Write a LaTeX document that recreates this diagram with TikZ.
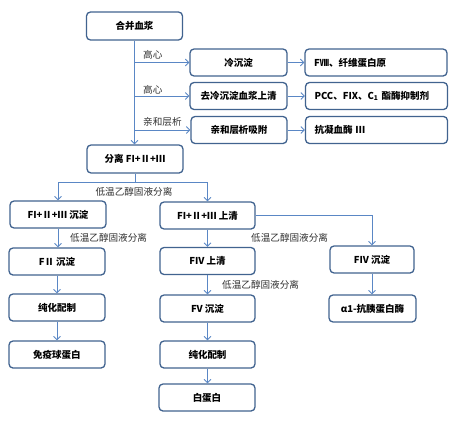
\documentclass[tikz,border=0pt]{standalone}
\usepackage{fontspec}
\setmainfont{Noto Sans CJK SC}
\usetikzlibrary{arrows.meta}
\definecolor{boxc}{HTML}{41638F}
\definecolor{linec}{HTML}{5A87C5}
\definecolor{labc}{HTML}{303030}
\tikzset{
  box/.style={draw=boxc, line width=1.3pt, rounded corners=4pt, fill=white,
    minimum width=96pt, minimum height=27pt, inner sep=1pt,
    font=\fontsize{9.5}{11}\selectfont\bfseries},
  rbox/.style={box, minimum width=142pt, text width=124pt, align=left},
  conn/.style={draw=linec, line width=0.8pt},
  arr/.style={conn, -{Straight Barb[length=3.5pt,width=7pt]}},
  lab/.style={font=\fontsize{9.6}{10}\selectfont, text=labc, inner sep=0pt}
}
\begin{document}
\begin{tikzpicture}[x=1pt,y=-1pt]
\useasboundingbox (0,0) rectangle (459,421);
% nodes
\node[box, minimum height=28pt] (a) at (134.5,26) {合并血浆};
\node[box, minimum width=97pt] (b) at (238.5,62.5) {冷沉淀};
\node[rbox] (c) at (376,62.5) {FⅧ、纤维蛋白原};
\node[box, minimum width=97pt] (d) at (238.5,96) {去冷沉淀血浆上清};
\node[rbox] (e) at (376.5,96) {PCC、FIX、C\textsubscript{1} 酯酶抑制剂};
\node[box] (f) at (239,130) {亲和层析吸附};
\node[rbox] (g) at (376.5,130) {抗凝血酶 Ⅲ};
\node[box, minimum height=28pt] (h) at (135,159) {分离 FI+Ⅱ+Ⅲ};
\node[box] (i) at (58,214.5) {FI+Ⅱ+Ⅲ 沉淀};
\node[box, minimum width=95pt] (j) at (207.5,215.5) {FI+Ⅱ+Ⅲ 上清};
\node[box] (k) at (57,261.5) {FⅡ 沉淀};
\node[box, minimum width=95pt] (l) at (207.5,261) {FIV 上清};
\node[box, minimum width=84pt] (m) at (372,259.5) {FIV 沉淀};
\node[box] (n) at (57,307.5) {纯化配制};
\node[box, minimum width=95pt] (o) at (207.5,308.5) {FV 沉淀};
\node[box, minimum width=87pt] (p) at (372.5,308.5) {α1-抗胰蛋白酶};
\node[box] (q) at (57,354.5) {免疫球蛋白};
\node[box, minimum width=95pt] (r) at (207.5,354.5) {纯化配制};
\node[box] (s) at (207,397.5) {白蛋白};
% top trunk
\draw[arr] (a.south) -- (a.south |- h.north);
\draw[arr] (a.south |- b.west) -- (b.west);
\draw[arr] (a.south |- d.west) -- (d.west);
\draw[arr] (a.south |- f.west) -- (f.west);
\draw[arr] (b.east) -- (b.east -| c.west);
\draw[arr] (d.east) -- (d.east -| e.west);
\draw[arr] (f.east) -- (f.east -| g.west);
\node[lab, anchor=south west] (l1) at (143,59.5) {高心};
\node[lab, anchor=south west] (l2) at (143,94) {高心};
\node[lab, anchor=south west] (l3) at (143,126.5) {亲和层析};
% split
\coordinate (sp) at (135,182);
\draw[conn] (h.south) -- (sp);
\draw[arr] (sp) -| (i.north);
\draw[arr] (sp) -| (j.north);
\node[lab] (l4) at (134,192) {低温乙醇固液分离};
% left column
\draw[arr] (i.south) -- (k.north -| i.south);
\node[lab, anchor=west] (l5) at (70,238) {低温乙醇固液分离};
\draw[arr] (k.south) -- (n.north);
\draw[arr] (n.south) -- (q.north);
% middle column
\draw[arr] (j.south) -- (l.north);
\node[lab, anchor=west] (l6) at (251,238) {低温乙醇固液分离};
\draw[arr] (j.east) -| (m.north);
\draw[arr] (l.south) -- (o.north);
\node[lab, anchor=west] (l7) at (222,285) {低温乙醇固液分离};
\draw[arr] (o.south) -- (r.north);
\draw[arr] (r.south) -- (s.north -| r.south);
% right column
\draw[arr] (m.south) -- (p.north -| m.south);
\end{tikzpicture}
\end{document}
